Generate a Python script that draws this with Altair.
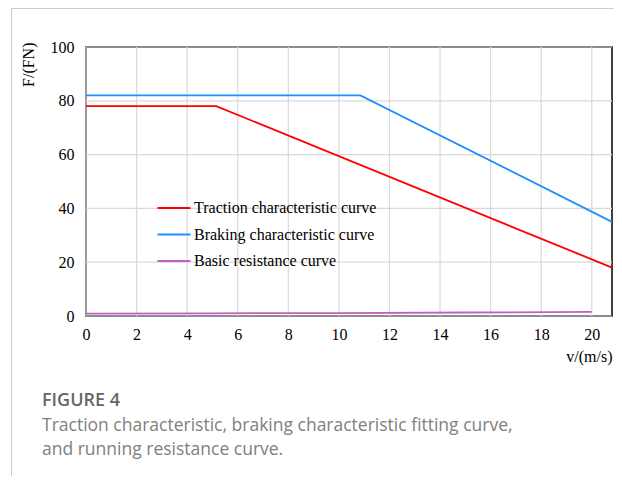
import altair as alt
import pandas as pd

series_names = ["Traction characteristic curve", "Braking characteristic curve", "Basic resistance curve"]
series_colors = ["#ff0000", "#1e8fff", "#c060c0"]

traction_v = [0, 5.15, 20.8]
traction_f = [78, 78, 18]
braking_v = [0, 10.85, 20.8]
braking_f = [82, 82, 35]
resist_v = [0, 5, 10, 15, 20]
resist_f = [0.9, 1.0, 1.1, 1.3, 1.5]

x_ticks = list(range(0, 21, 2))
y_ticks = list(range(0, 101, 20))

rows = []
for v, f in zip(traction_v, traction_f):
    rows.append({"v": v, "F": f, "series": series_names[0]})
for v, f in zip(braking_v, braking_f):
    rows.append({"v": v, "F": f, "series": series_names[1]})
for v, f in zip(resist_v, resist_f):
    rows.append({"v": v, "F": f, "series": series_names[2]})
df = pd.DataFrame(rows)

serif = "Liberation Serif"
sans = "Open Sans"

xscale = alt.Scale(domain=[0, 20.8], nice=False, zero=False)
yscale = alt.Scale(domain=[0, 100], nice=False)

vgrid = alt.Chart(pd.DataFrame({"v": x_ticks})).mark_rule(color="#d9d9d9", strokeWidth=1.2).encode(
    x=alt.X("v:Q", scale=xscale))
hgrid = alt.Chart(pd.DataFrame({"F": y_ticks})).mark_rule(color="#d9d9d9", strokeWidth=1.2).encode(
    y=alt.Y("F:Q", scale=yscale))

lines = alt.Chart(df).mark_line(strokeWidth=1.8).encode(
    x=alt.X("v:Q", scale=xscale,
            axis=alt.Axis(values=x_ticks, title="v/(m/s)", titleAnchor="end", titleAlign="right",
                          titleX=526, titleY=40, titleBaseline="middle", labelPadding=10,
                          grid=False, labelFlush=False)),
    y=alt.Y("F:Q", scale=yscale,
            axis=alt.Axis(values=y_ticks, title="F/(FN)", titleAngle=270, titleAlign="right",
                          titleX=-58, titleY=-5, titleBaseline="middle", labelPadding=12,
                          grid=False, labelFlush=False)),
    color=alt.Color("series:N", scale=alt.Scale(domain=series_names, range=series_colors),
                    legend=alt.Legend(title=None, orient="none", legendX=80, legendY=153,
                                      symbolType="M-3,0H3", symbolSize=121, symbolStrokeWidth=2,
                                      labelFont=serif, labelFontSize=16, labelColor="#000",
                                      labelOffset=12, rowPadding=10.5, labelLimit=400)),
    order=alt.Order("v:Q"),
)

caption = pd.DataFrame({
    "text": ["FIGURE 4",
             "Traction characteristic, braking characteristic fitting curve,",
             "and running resistance curve."],
})

head = alt.Chart(caption.iloc[[0]]).mark_text(
    align="left", baseline="middle", font=sans, fontSize=18, fontWeight=600, color="#666666"
).encode(x=alt.value(-44), y=alt.value(354), text="text:N")

body1 = alt.Chart(caption.iloc[[1]]).mark_text(
    align="left", baseline="middle", font=sans, fontSize=17.5, color="#808080"
).encode(x=alt.value(-44), y=alt.value(378.5), text="text:N")

body2 = alt.Chart(caption.iloc[[2]]).mark_text(
    align="left", baseline="middle", font=sans, fontSize=17.5, color="#808080"
).encode(x=alt.value(-44), y=alt.value(403), text="text:N")

frame_top = alt.Chart(pd.DataFrame({"a": [0]})).mark_rule(color="#cccccc", strokeWidth=1).encode(
    x=alt.value(-75), x2=alt.value(540), y=alt.value(-38.5))
frame_left = alt.Chart(pd.DataFrame({"a": [0]})).mark_rule(color="#cccccc", strokeWidth=1).encode(
    x=alt.value(-74.5), y=alt.value(-39), y2=alt.value(440))

chart = alt.layer(vgrid, hgrid, lines, head, body1, body2, frame_top, frame_left).properties(
    width=526, height=269,
    autosize=alt.AutoSizeParams(type="none"),
    padding={"left": 78, "top": 39, "right": 2, "bottom": 160},
    background="white",
).configure_view(
    stroke="#000000", strokeWidth=1.5
).configure_axis(
    labelFont=serif, labelFontSize=16, labelColor="#000",
    titleFont=serif, titleFontSize=16, titleColor="#000", titleFontWeight="normal",
    domain=False, ticks=False,
)

chart.save("out.html", embed_options={"renderer": "svg", "actions": False})
